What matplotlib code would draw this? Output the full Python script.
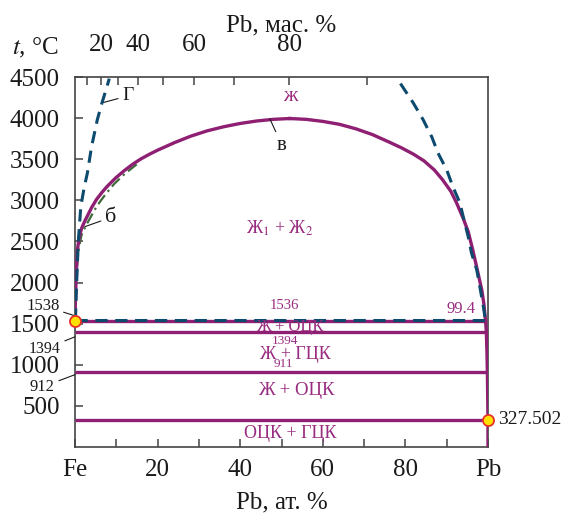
import matplotlib
matplotlib.use('Agg')
import matplotlib.pyplot as plt
import numpy as np

plt.rcParams['font.family'] = ['Liberation Serif', 'DejaVu Serif']
plt.rcParams['mathtext.fontset'] = 'stix'

# Colours
Purple = '#8e1f72'
TextPurple = '#992c80'
Blue = '#0c4a6e'
Green = '#3f6b3a'

# Miscibility gap (purple), left and right branches, at.% Pb vs t, C
GapLeftX = [0.0, 0.1, 0.3, 0.6, 1.0, 1.6, 2.3, 3.0, 4.0, 5.2, 6.5, 7.8, 9.8, 11.9, 14.0, 16.0, 18.0, 20.0, 24.0, 28.0, 32.0, 36.0, 40.0, 44.0, 48.0, 52.0]
GapLeftT = [1538, 1800, 2100, 2400, 2550, 2660, 2740, 2810, 2910, 3010, 3095, 3170, 3270, 3360, 3440, 3505, 3560, 3610, 3700, 3780, 3845, 3895, 3935, 3965, 3985, 3995]
GapRightX = [52.0, 56.0, 60.0, 64.0, 68.0, 72.0, 76.0, 79.0, 82.0, 84.5, 87.0, 89.0, 91.0, 92.4, 94.0, 95.2, 96.3, 97.2, 98.0, 98.5, 99.0, 99.4]
GapRightT = [3995, 3985, 3960, 3925, 3870, 3800, 3710, 3640, 3560, 3480, 3370, 3250, 3110, 2968, 2780, 2620, 2400, 2200, 2020, 1910, 1740, 1536]

# Pb-side liquidus below the monotectic
LiqPbX = [99.4, 99.6, 99.75, 99.85, 99.93, 100.0, 100.0]
LiqPbT = [1536, 1400, 1150, 900, 600, 327.502, 0]

# Isotherms: temperature and end composition
IsoT = [1536, 1394, 912, 327.502]
IsoEnd = [99.4, 99.7, 99.85, 100.0]

# Curve "Г" (dashed blue)
GLeftX = [0.1, 0.4, 0.8, 1.4, 2.2, 3.0, 4.0, 5.4, 6.5, 7.6, 8.3]
GLeftT = [1536, 2000, 2500, 2920, 3150, 3333, 3650, 3980, 4180, 4360, 4480]
GRightX = [78.8, 81.9, 84.3, 86.4, 87.9, 90.0, 91.5, 93.2, 94.2, 95.2, 96.0, 97.3, 98.2, 98.9, 99.4]
GRightT = [4420, 4185, 3980, 3770, 3575, 3370, 3166, 2968, 2760, 2560, 2360, 2150, 1900, 1700, 1536]
GMonoT = 1550

# Curve "б" (dash-dot green)
BX = [0.5, 0.9, 1.6, 2.5, 3.5, 4.7, 6.0, 7.5, 9.5, 12.0, 15.0]
BT = [2200, 2420, 2580, 2680, 2770, 2880, 2980, 3080, 3200, 3320, 3440]

# Invariant points
PointX = [0.0, 100.0]
PointT = [1538, 327.502]

# Axis ticks
XTicks = np.arange(0, 101, 10)
XTickLabels = ['Fe', '', '20', '', '40', '', '60', '', '80', '', 'Pb']
YTicks = np.arange(500, 4501, 500)
WtTicks = np.arange(10, 91, 10)
WtLabels = ['', '20', '', '40', '', '60', '', '80', '']

MFe, MPb = 55.845, 207.2


def at2wt(x):
    x = np.clip(np.asarray(x, dtype=float), 1e-9, 100 - 1e-9)
    return 100 * x * MPb / (x * MPb + (100 - x) * MFe)


def wt2at(w):
    w = np.clip(np.asarray(w, dtype=float), 1e-9, 100 - 1e-9)
    return 100 * (w / MPb) / (w / MPb + (100 - w) / MFe)


fig = plt.figure(figsize=(5.66, 5.14), dpi=100)
ax = fig.add_axes([75 / 566, 1 - 447 / 514, 413 / 566, 370 / 514])
ax.set_xlim(0, 100)
ax.set_ylim(0, 4500)

lw = 2.4
# isotherms
for T, xe in zip(IsoT, IsoEnd):
    ax.plot([0, xe], [T, T], color=Purple, lw=lw, solid_capstyle='butt', zorder=3)
ax.plot(GapLeftX, GapLeftT, color=Purple, lw=lw, zorder=3)
ax.plot(GapRightX, GapRightT, color=Purple, lw=lw, zorder=3)
ax.plot(LiqPbX, LiqPbT, color=Purple, lw=lw, zorder=3)

# curve б
ax.plot(BX, BT, color=Green, lw=1.6, ls=(0, (5, 2, 1, 2)), zorder=2)

# curve Г
ax.plot(GLeftX, GLeftT, color=Blue, lw=2.2, ls=(0, (4, 2.5)), zorder=4)
ax.plot(GRightX, GRightT, color=Blue, lw=2.2, ls=(0, (4, 2.5)), zorder=4)
ax.plot([0, 99.4], [GMonoT, GMonoT], color=Blue, lw=2.2, ls=(0, (4, 2.5)), zorder=4)

ax.plot(PointX, PointT, ls='none', marker='o', ms=8, mfc='#ffe100',
        mec='#e8302a', mew=1.3, zorder=6, clip_on=False)

# axes styling
for s in ax.spines.values():
    s.set_color('#444444')
    s.set_linewidth(1.2)
ax.set_xticks(XTicks)
ax.set_xticklabels(XTickLabels)
ax.set_yticks(YTicks)
ax.tick_params(axis='both', direction='in', length=6, width=1.1, color='#444444',
               labelsize=18, labelcolor='#1a1a1a')
ax.tick_params(axis='x', pad=9)
ax.tick_params(axis='y', pad=11)
ax.set_xlabel('Pb, ат. %', fontsize=18, color='#1a1a1a', labelpad=7)

sec = ax.secondary_xaxis('top', functions=(at2wt, wt2at))
sec.set_xticks(WtTicks)
sec.set_xticklabels(WtLabels)
sec.tick_params(direction='in', length=6, width=1.1, color='#444444',
                labelsize=18, labelcolor='#1a1a1a', pad=15)
sec.spines['top'].set_visible(False)
sec.set_xlabel('Pb, мас. %', fontsize=18, color='#1a1a1a', labelpad=2)

fig.text(35 / 566, 1 - 48 / 514, r'$t$, °C', fontsize=18, color='#1a1a1a',
         ha='center', va='center')

# region labels
tk = dict(color=TextPurple, ha='center', va='center', zorder=5)
ax.text(52.1, 4258, 'ж', fontsize=15, **tk)
ax.text(49.6, 2664, 'Ж$_1$ + Ж$_2$', fontsize=13, **tk)
ax.text(50.8, 1720, '1536', fontsize=10.5, **tk)
ax.text(93.5, 1680, '99.4', fontsize=12, **tk)
ax.text(52.0, 1455, 'Ж + ОЦК', fontsize=12, **tk)
ax.text(50.8, 1290, '1394', fontsize=9.5, **tk)
ax.text(53.3, 1125, 'Ж + ГЦК', fontsize=13, **tk)
ax.text(50.4, 1005, '911', fontsize=9.5, **tk)
ax.text(53.5, 693, 'Ж + ОЦК', fontsize=13.5, **tk)
ax.text(52.2, 167, 'ОЦК + ГЦК', fontsize=13, **tk)

# curve labels with leaders
lk = dict(arrowprops=dict(arrowstyle='-', color='#1a1a1a', lw=0.8, shrinkA=1, shrinkB=0),
          color='#1a1a1a', ha='center', va='center', annotation_clip=False)
ax.annotate('Г', xy=(6.9, 4190), xytext=(12.8, 4270), fontsize=14, **lk)
ax.annotate('б', xy=(2.4, 2680), xytext=(8.6, 2790), fontsize=16, **lk)
ax.annotate('в', xy=(47.2, 3990), xytext=(50.1, 3670), fontsize=15, **lk)
ax.annotate('1538', xy=(-0.3, 1600), xytext=(-7.8, 1720), fontsize=12, **lk)
ax.annotate('1394', xy=(0, 1340), xytext=(-7.3, 1195), fontsize=11.5, **lk)
ax.annotate('912', xy=(0, 880), xytext=(-7.9, 730), fontsize=12, **lk)
ax.text(102.4, 337, '327.502', fontsize=14, color='#1a1a1a', ha='left', va='center')

fig.savefig('out.png', dpi=100)
